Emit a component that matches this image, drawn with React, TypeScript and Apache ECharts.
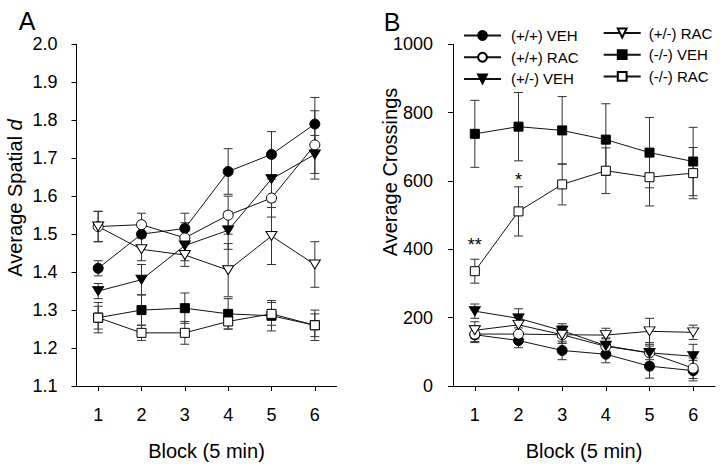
import React, { useEffect, useRef } from "react";
import * as echarts from "echarts";

const FONT = '"Liberation Sans", Arial, Helvetica, sans-serif';

const blocks = ["1", "2", "3", "4", "5", "6"];
const seriesNames = ["(+/+) VEH", "(+/+) RAC", "(+/-) VEH", "(+/-) RAC", "(-/-) VEH", "(-/-) RAC"];

// Panel A: Average Spatial d
const spatialWtVeh = [1.41, 1.5, 1.515, 1.665, 1.71, 1.79];
const spatialWtRac = [1.52, 1.525, 1.49, 1.55, 1.595, 1.735];
const spatialHetVeh = [1.35, 1.38, 1.47, 1.51, 1.645, 1.71];
const spatialHetRac = [1.52, 1.46, 1.445, 1.405, 1.495, 1.42];
const spatialKoVeh = [1.28, 1.3, 1.305, 1.29, 1.285, 1.26];
const spatialKoRac = [1.28, 1.24, 1.24, 1.27, 1.29, 1.26];

const spatialWtVehErr = [0.02, 0.03, 0.04, 0.06, 0.06, 0.07];
const spatialWtRacErr = [0.04, 0.03, 0.04, 0.05, 0.05, 0.09];
const spatialHetVehErr = [0.02, 0.04, 0.04, 0.05, 0.06, 0.05];
const spatialHetRacErr = [0.04, 0.03, 0.03, 0.07, 0.075, 0.06];
const spatialKoVehErr = [0.04, 0.04, 0.04, 0.04, 0.04, 0.04];
const spatialKoRacErr = [0.03, 0.02, 0.03, 0.02, 0.03, 0.03];

// Panel B: Average Crossings
const crossWtVeh = [150, 133, 104, 93, 58, 45];
const crossWtRac = [152, 152, 150, 116, 97, 52];
const crossHetVeh = [219, 198, 162, 118, 97, 87];
const crossHetRac = [163, 179, 150, 149, 160, 157];
const crossKoVeh = [738, 759, 748, 721, 683, 657];
const crossKoRac = [336, 511, 590, 630, 611, 623];

const crossWtVehErr = [20, 21, 27, 25, 35, 30];
const crossWtRacErr = [25, 25, 25, 25, 30, 30];
const crossHetVehErr = [21, 28, 20, 20, 20, 35];
const crossHetRacErr = [25, 20, 25, 20, 38, 21];
const crossKoVehErr = [98, 100, 99, 105, 103, 100];
const crossKoRacErr = [35, 72, 60, 67, 84, 75];

const significance = ["**", "*", "", "", "", ""];

const spatialSeries = [spatialWtVeh, spatialWtRac, spatialHetVeh, spatialHetRac, spatialKoVeh, spatialKoRac];
const spatialErrors = [spatialWtVehErr, spatialWtRacErr, spatialHetVehErr, spatialHetRacErr, spatialKoVehErr, spatialKoRacErr];
const crossSeries = [crossWtVeh, crossWtRac, crossHetVeh, crossHetRac, crossKoVeh, crossKoRac];
const crossErrors = [crossWtVehErr, crossWtRacErr, crossHetVehErr, crossHetRacErr, crossKoVehErr, crossKoRacErr];

const TRI_DOWN = "path://M0,0 L12,0 L6,10 Z";
const symbols = ["circle", "circle", TRI_DOWN, TRI_DOWN, "rect", "rect"];
const symbolSizes: any[] = [10, 10, [11, 9], [11, 9], 9, 9];
const filled = [true, false, true, false, true, false];

const LINE_COLOR = "#111";
const ERR_COLOR = "#333";

function errorRender(params: any, api: any) {
  const x = api.value(0);
  const y = api.value(1);
  const e = api.value(2);
  const top = api.coord([x, y + e]);
  const bot = api.coord([x, y - e]);
  const w = 4.5;
  const style = { stroke: ERR_COLOR, lineWidth: 1, fill: "none" };
  return {
    type: "group",
    children: [
      { type: "line", shape: { x1: top[0], y1: top[1], x2: bot[0], y2: bot[1] }, style },
      { type: "line", shape: { x1: top[0] - w, y1: top[1], x2: top[0] + w, y2: top[1] }, style },
      { type: "line", shape: { x1: bot[0] - w, y1: bot[1], x2: bot[0] + w, y2: bot[1] }, style },
    ],
  };
}

function buildSeries(values: number[][], errors: number[][], axisIdx: number, withStars: boolean) {
  const out: any[] = [];
  values.forEach((vals, i) => {
    out.push({
      type: "custom",
      name: "err" + axisIdx + "_" + i,
      xAxisIndex: axisIdx,
      yAxisIndex: axisIdx,
      z: 1,
      renderItem: errorRender,
      encode: { x: 0, y: 1 },
      data: vals.map((v, j) => [j, v, errors[i][j]]),
      silent: true,
    });
  });
  values.forEach((vals, i) => {
    const data = vals.map((v, j) => {
      if (withStars && i === 5 && significance[j]) {
        return {
          value: v,
          label: {
            show: true,
            position: "top",
            distance: j === 0 ? 12 : 17,
            formatter: significance[j],
            fontSize: 18,
            color: "#000",
            fontFamily: FONT,
          },
        };
      }
      return v;
    });
    out.push({
      type: "line",
      name: seriesNames[i],
      xAxisIndex: axisIdx,
      yAxisIndex: axisIdx,
      z: 2,
      symbol: symbols[i],
      symbolSize: symbolSizes[i],
      showAllSymbol: true,
      lineStyle: { color: LINE_COLOR, width: 1 },
      itemStyle: {
        color: filled[i] ? "#000" : "#fff",
        borderColor: "#000",
        borderWidth: 1,
      },
      emphasis: { disabled: true },
      data,
    });
  });
  return out;
}

function xAxisCfg(gridIndex: number) {
  return {
    type: "category",
    gridIndex,
    data: blocks,
    boundaryGap: true,
    name: "Block (5 min)",
    nameLocation: "middle",
    nameGap: 55,
    nameTextStyle: { fontSize: 20, color: "#000", fontFamily: FONT },
    axisLine: { show: true, lineStyle: { color: "#000", width: 1 } },
    axisTick: { show: true, alignWithLabel: true, length: 5, inside: false, lineStyle: { color: "#000" } },
    axisLabel: { fontSize: 18, color: "#000", margin: 20, fontFamily: FONT },
    splitLine: { show: false },
  };
}

export default function App() {
  const ref = useRef<HTMLDivElement>(null);
  useEffect(() => {
    if (!ref.current) return;
    const chart = echarts.init(ref.current, null, { renderer: "svg" });
    const legendText = { fontSize: 15, color: "#000", fontFamily: FONT, lineHeight: 15 };
    const option: any = {
      animation: false,
      backgroundColor: "#fff",
      grid: [
        { left: 76.5, right: 383.5, top: 44.3, bottom: 73.3 },
        { left: 453, right: 5, top: 44.3, bottom: 73.3 },
      ],
      xAxis: [xAxisCfg(0), xAxisCfg(1)],
      yAxis: [
        {
          type: "value",
          gridIndex: 0,
          min: 1.1,
          max: 2.0,
          interval: 0.1,
          axisLine: { show: true, lineStyle: { color: "#000", width: 1 } },
          axisTick: { show: true, length: 5, inside: false, lineStyle: { color: "#000" } },
          axisLabel: {
            fontSize: 18,
            color: "#000",
            margin: 19,
            fontFamily: FONT,
            formatter: (v: number) => v.toFixed(1),
          },
          splitLine: { show: false },
        },
        {
          type: "value",
          gridIndex: 1,
          min: 0,
          max: 1000,
          interval: 200,
          axisLine: { show: true, lineStyle: { color: "#000", width: 1 } },
          axisTick: { show: true, length: 5, inside: false, lineStyle: { color: "#000" } },
          axisLabel: {
            fontSize: 18,
            color: "#000",
            margin: 20,
            fontFamily: FONT,
            formatter: (v: number) => String(Math.round(v)),
          },
          splitLine: { show: false },
        },
      ],
      legend: [
        {
          data: seriesNames.slice(0, 3),
          orient: "vertical",
          left: 463,
          top: 28,
          itemWidth: 37,
          itemHeight: 11,
          itemGap: 6.7,
          padding: 0,
          textStyle: { ...legendText, padding: [0, 0, 0, 5] },
          selectedMode: false,
        },
        {
          data: seriesNames.slice(3),
          orient: "vertical",
          left: 602.7,
          top: 25.5,
          itemWidth: 37,
          itemHeight: 11,
          itemGap: 6.7,
          padding: 0,
          textStyle: { ...legendText, padding: [0, 0, 0, 3] },
          selectedMode: false,
        },
      ],
      graphic: [
        {
          type: "text",
          x: 27,
          y: 21,
          style: { text: "A", fontSize: 25, fill: "#000", fontFamily: FONT, align: "center", verticalAlign: "middle" },
        },
        {
          type: "text",
          x: 392,
          y: 22,
          style: { text: "B", fontSize: 25, fill: "#000", fontFamily: FONT, align: "center", verticalAlign: "middle" },
        },
        {
          type: "text",
          x: 15,
          y: 198,
          rotation: Math.PI / 2,
          style: {
            text: "{a|Average Spatial }{b|d}",
            align: "center",
            verticalAlign: "middle",
            fill: "#000",
            rich: {
              a: { fontSize: 20, fontFamily: FONT, fill: "#000" },
              b: { fontSize: 20, fontFamily: FONT, fontStyle: "italic", fill: "#000" },
            },
          },
        },
        {
          type: "text",
          x: 390,
          y: 172,
          rotation: Math.PI / 2,
          style: {
            text: "Average Crossings",
            fontSize: 20,
            fontFamily: FONT,
            fill: "#000",
            align: "center",
            verticalAlign: "middle",
          },
        },
      ],
      series: [
        ...buildSeries(spatialSeries, spatialErrors, 0, false),
        ...buildSeries(crossSeries, crossErrors, 1, true),
      ],
    };
    chart.setOption(option);
    return () => chart.dispose();
  }, []);
  return <div ref={ref} style={{ position: "absolute", left: 0, top: 0, width: 720, height: 466 }} />;
}
